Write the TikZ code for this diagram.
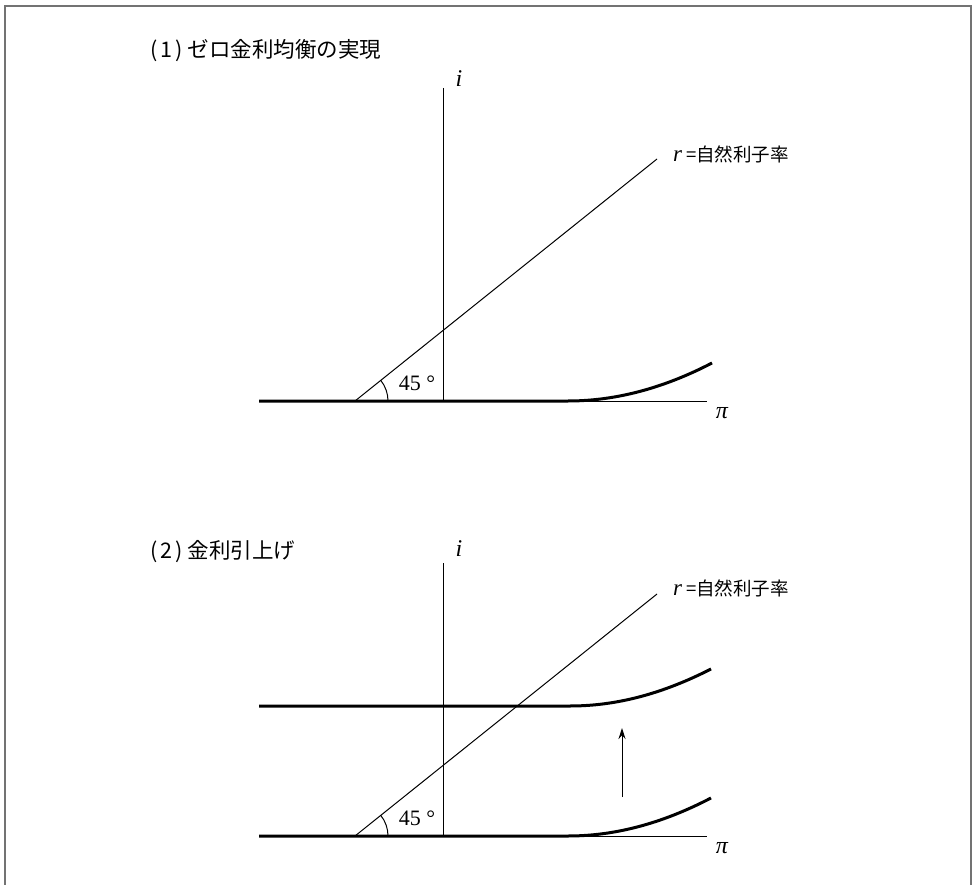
\documentclass[tikz,border=0pt]{standalone}
\usepackage{fontspec}
\usetikzlibrary{arrows.meta}
\newfontfamily\cjk{Noto Sans CJK JP}
\newfontfamily\rom{Liberation Serif}
\begin{document}
\begin{tikzpicture}[x=1pt,y=-1pt,
  axisline/.style={line width=1pt,black},
  curveline/.style={line width=3pt,black},
  frameline/.style={line width=1.6pt,black!55},
  titletext/.style={anchor=west,inner sep=0pt,font=\cjk\fontsize{21.5}{24}\selectfont},
  ratetext/.style={anchor=west,inner sep=0pt},
  vartext/.style={inner sep=0pt,font=\rom\itshape\fontsize{24}{28}\selectfont},
  degtext/.style={inner sep=0pt,font=\rom\fontsize{22}{26}\selectfont}]
\useasboundingbox (0,0) rectangle (972,885);
% frame
\coordinate (fbl) at (5,895);
\coordinate (ftl) at (5,6);
\coordinate (ftr) at (971,6);
\coordinate (fbr) at (971,895);
\draw[frameline] (fbl) -- (ftl) -- (ftr) -- (fbr);

% ---------- panel 1 ----------
\node[titletext] (t1) at (150,51) {(\hspace{3pt}1\hspace{3pt})\hspace{5pt}ゼロ金利均衡の実現};
\coordinate (o1) at (443,401);
\coordinate (top1) at (443,88);
\coordinate (hs1) at (259,401);
\coordinate (he1) at (707,401);
\coordinate (k1) at (568,401);
\coordinate (ca1) at (615,401);
\coordinate (cb1) at (663,388.5);
\coordinate (e1) at (712,363);
\coordinate (p1) at (355,401);
\coordinate (q1) at (657,159);
\coordinate (arcs1) at (388,401);
\draw[axisline] (top1) -- (o1);
\draw[axisline] (hs1) -- (he1);
\draw[curveline] (hs1) -- (k1) .. controls (ca1) and (cb1) .. (e1);
\draw[axisline] (p1) -- (q1);
\draw[axisline] (arcs1) arc[start angle=0,end angle=-38.7,radius=33];
\node[vartext] (i1) at (459,79) {i};
\node[vartext] (pi1) at (722,413) {π};
\node[ratetext] (r1) at (673,154) {{\rom\itshape\fontsize{23}{26}\selectfont r}\hspace{4pt}{\cjk\fontsize{18.5}{20}\selectfont =自然利子率}};
\node[degtext] (d1) at (417,383) {45 °};

% ---------- panel 2 ----------
\node[titletext] (t2) at (150,552) {(\hspace{3pt}2\hspace{3pt})\hspace{5pt}金利引上げ};
\coordinate (o2) at (443,836);
\coordinate (top2) at (443,563);
\coordinate (hs2) at (259,836);
\coordinate (he2) at (707,836);
\coordinate (k2) at (568,836);
\coordinate (ca2) at (615,836);
\coordinate (cb2) at (662,823.5);
\coordinate (e2) at (711,798);
\coordinate (us2) at (259,706);
\coordinate (uk2) at (570,706);
\coordinate (uca2) at (617,706);
\coordinate (ucb2) at (663,693.5);
\coordinate (ue2) at (711,669);
\coordinate (p2) at (355,836);
\coordinate (q2) at (657,594);
\coordinate (arcs2) at (388,836);
\coordinate (ab2) at (622,797);
\coordinate (at2) at (622,728);
\draw[axisline] (top2) -- (o2);
\draw[axisline] (hs2) -- (he2);
\draw[curveline] (hs2) -- (k2) .. controls (ca2) and (cb2) .. (e2);
\draw[curveline] (us2) -- (uk2) .. controls (uca2) and (ucb2) .. (ue2);
\draw[axisline] (p2) -- (q2);
\draw[axisline] (arcs2) arc[start angle=0,end angle=-38.7,radius=33];
\draw[axisline,-{Stealth[length=11pt,width=7pt]}] (ab2) -- (at2);
\node[vartext] (i2) at (459,549) {i};
\node[vartext] (pi2) at (722,848) {π};
\node[ratetext] (r2) at (673,588) {{\rom\itshape\fontsize{23}{26}\selectfont r}\hspace{4pt}{\cjk\fontsize{18.5}{20}\selectfont =自然利子率}};
\node[degtext] (d2) at (417,818) {45 °};
\end{tikzpicture}
\end{document}
